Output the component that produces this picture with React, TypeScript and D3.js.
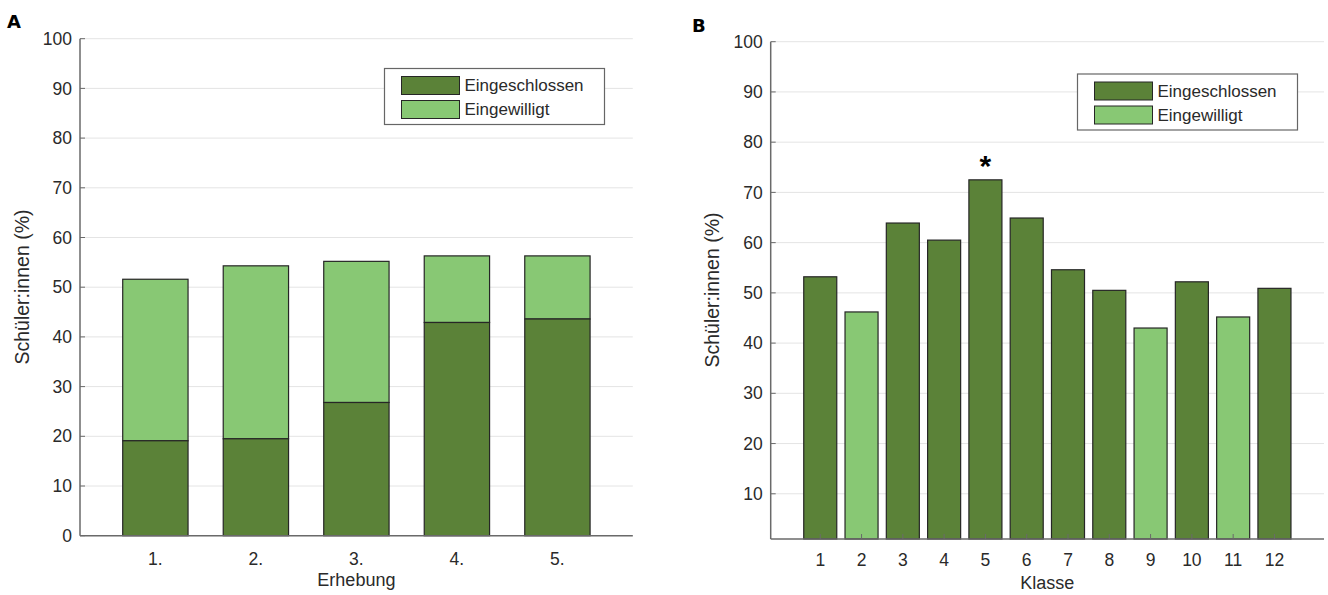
import React from 'react'
import * as d3 from 'd3'

// Panel A: stacked bars per survey wave
const surveyLabels = ['1.', '2.', '3.', '4.', '5.']
const surveyIncluded = [19.1, 19.5, 26.8, 42.9, 43.6]
const surveyConsented = [51.6, 54.3, 55.2, 56.3, 56.3]

// Panel B: share per class, coloured by inclusion
const classLabels = ['1', '2', '3', '4', '5', '6', '7', '8', '9', '10', '11', '12']
const classValues = [53.2, 46.2, 63.9, 60.5, 72.5, 64.9, 54.6, 50.5, 43.0, 52.2, 45.2, 50.9]
const classIncluded = [true, false, true, true, true, true, true, true, false, true, false, true]
const significantClasses = ['5']

const yTicksA = [0, 10, 20, 30, 40, 50, 60, 70, 80, 90, 100]
const yTicksB = [10, 20, 30, 40, 50, 60, 70, 80, 90, 100]

const legendItems = ['Eingeschlossen', 'Eingewilligt']

const colors = {
  dark: '#5b8238',
  light: '#88c874',
  stroke: '#262626',
  grid: '#e4e4e4',
  axis: '#6a6a6a',
  text: '#2a2a2a',
}

const font = '"Liberation Sans", Arial, Helvetica, sans-serif'

const textStyle = {
  fontFamily: font,
  fontSize: '17.5px',
  fill: colors.text,
}

const panelLabelStyle = {
  fontFamily: '"DejaVu Sans", sans-serif',
  fontWeight: 900,
  fontSize: '18px',
  fill: '#000',
}

function YAxis({ y, ticks, x0, x1 }) {
  return (
    <g>
      {ticks.map((t) => (
        <g key={'g' + t}>
          <line x1={x0} x2={x1} y1={y(t)} y2={y(t)} stroke={colors.grid} strokeWidth={1} />
          <line x1={x0} x2={x0 + 5} y1={y(t)} y2={y(t)} stroke={colors.axis} strokeWidth={1} />
          <text x={x0 - 8} y={y(t)} dy="0.35em" textAnchor="end" style={textStyle}>
            {t}
          </text>
        </g>
      ))}
    </g>
  )
}

function Legend({ x, y, w, h }) {
  const fills = [colors.dark, colors.light]
  return (
    <g transform={`translate(${x},${y})`}>
      <rect x={0} y={0} width={w} height={h} fill="white" stroke="#666" strokeWidth={1.2} />
      {legendItems.map((d, i) => (
        <g key={d} transform={`translate(17,${8 + i * 24})`}>
          <rect x={0} y={0} width={58} height={18} fill={fills[i]} stroke={colors.stroke} strokeWidth={1} />
          <text x={63} y={9} dy="0.35em" style={{ ...textStyle, fontSize: '17px' }}>
            {d}
          </text>
        </g>
      ))}
    </g>
  )
}

function YLabel({ x, y }) {
  return (
    <text
      transform={`translate(${x},${y}) rotate(-90)`}
      textAnchor="middle"
      style={{ ...textStyle, fontSize: '19.5px' }}
    >
      Schüler:innen (%)
    </text>
  )
}

function PanelA() {
  const x = d3.scaleLinear().domain([0.25, 5.75]).range([80, 632.8])
  const y = d3.scaleLinear().domain([0, 100]).range([535.7, 38.7])
  const bw = x(1.65) - x(1)

  return (
    <g>
      <text x={7} y={28} style={panelLabelStyle}>
        A
      </text>
      <YAxis y={y} ticks={yTicksA} x0={x.range()[0]} x1={x.range()[1]} />
      {surveyLabels.map((d, i) => (
        <g key={d}>
          <rect
            x={x(i + 1) - bw / 2}
            y={y(surveyConsented[i])}
            width={bw}
            height={y(surveyIncluded[i]) - y(surveyConsented[i])}
            fill={colors.light}
            stroke={colors.stroke}
            strokeWidth={1.2}
          />
          <rect
            x={x(i + 1) - bw / 2}
            y={y(surveyIncluded[i])}
            width={bw}
            height={y(0) - y(surveyIncluded[i])}
            fill={colors.dark}
            stroke={colors.stroke}
            strokeWidth={1.2}
          />
          <text x={x(i + 1)} y={y(0) + 23} dy="0.35em" textAnchor="middle" style={textStyle}>
            {d}
          </text>
        </g>
      ))}
      <line x1={x.range()[0]} x2={x.range()[0]} y1={y(100)} y2={y(0)} stroke={colors.axis} strokeWidth={1.5} />
      <line x1={x.range()[0]} x2={x.range()[1]} y1={y(0)} y2={y(0)} stroke={colors.axis} strokeWidth={1.5} />
      <text x={(x.range()[0] + x.range()[1]) / 2} y={586} textAnchor="middle" style={{ ...textStyle, fontSize: '18px' }}>
        Erhebung
      </text>
      <YLabel x={28.5} y={287} />
      <Legend x={384.5} y={68.5} w={220} h={56} />
    </g>
  )
}

function PanelB() {
  const x = d3.scaleLinear().domain([-0.2, 13.2]).range([770.7, 1324])
  const y = d3.scaleLinear().domain([1, 100]).range([539, 41.7])
  const bw = x(1.8) - x(1)

  return (
    <g>
      <text x={692} y={32} style={panelLabelStyle}>
        B
      </text>
      <YAxis y={y} ticks={yTicksB} x0={x.range()[0]} x1={x.range()[1]} />
      {classLabels.map((d, i) => (
        <g key={d}>
          <rect
            x={x(i + 1) - bw / 2}
            y={y(classValues[i])}
            width={bw}
            height={y(1) - y(classValues[i])}
            fill={classIncluded[i] ? colors.dark : colors.light}
            stroke={colors.stroke}
            strokeWidth={1.2}
          />
          <line x1={x(i + 1)} x2={x(i + 1)} y1={y(1)} y2={y(1) - 5} stroke={colors.axis} strokeWidth={1} />
          <text x={x(i + 1)} y={y(1) + 21} dy="0.35em" textAnchor="middle" style={textStyle}>
            {d}
          </text>
          {significantClasses.includes(d) && (
            <text
              x={x(i + 1)}
              y={y(classValues[i]) - 4}
              textAnchor="middle"
              style={{ fontFamily: font, fontWeight: 700, fontSize: '30px', fill: '#000' }}
            >
              *
            </text>
          )}
        </g>
      ))}
      <line x1={x.range()[0]} x2={x.range()[0]} y1={y(100)} y2={y(1)} stroke={colors.axis} strokeWidth={1.5} />
      <line x1={x.range()[0]} x2={x.range()[1]} y1={y(1)} y2={y(1)} stroke={colors.axis} strokeWidth={1.5} />
      <text x={(x.range()[0] + x.range()[1]) / 2} y={589} textAnchor="middle" style={{ ...textStyle, fontSize: '18px' }}>
        Klasse
      </text>
      <YLabel x={719} y={290} />
      <Legend x={1077.5} y={74} w={220} h={56} />
    </g>
  )
}

export default function App() {
  return (
    <svg
      width={1328}
      height={595}
      style={{ position: 'absolute', left: 0, top: 0, background: 'white' }}
    >
      <rect width={1328} height={595} fill="white" />
      <PanelA />
      <PanelB />
    </svg>
  )
}
